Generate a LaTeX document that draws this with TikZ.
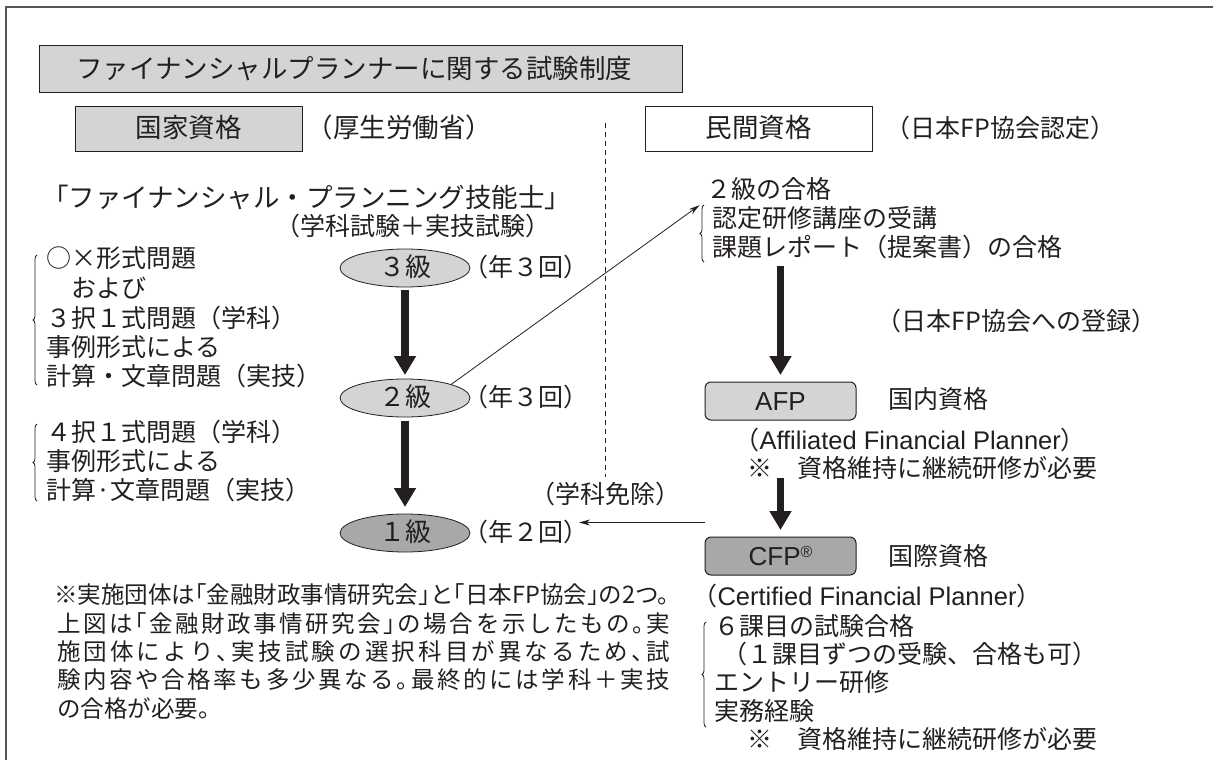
\documentclass[tikz,border=0pt]{standalone}
\usepackage{fontspec}
\setmainfont{Noto Sans CJK JP}
\newfontfamily\jphalf[Script=CJK,RawFeature=+halt]{Noto Sans CJK JP}
\newfontfamily\lat{Liberation Sans}
\usetikzlibrary{arrows.meta,decorations.pathreplacing,shapes.geometric}
\definecolor{ink}{HTML}{231F20}
\definecolor{fillL}{HTML}{D4D4D4}
\definecolor{fillD}{HTML}{A8A8A8}
\definecolor{framec}{HTML}{555555}
\newcommand\hp[1]{{\jphalf #1}}
\newcommand\fs[1]{\fontsize{#1}{#1}\selectfont}
\makeatletter
\def\spr@a#1{#1\futurelet\spr@next\spr@b}
\def\spr@b{\ifx\spr@next\relax\expandafter\@gobble\else\hfil\expandafter\spr@a\fi}
\newcommand\spreadto[2]{\hbox to #1{\spr@a#2\relax}}
\makeatother
\begin{document}
\begin{tikzpicture}[x=1pt,y=-1pt,
  every node/.style={inner sep=0pt,outer sep=0pt,text=ink},
  tx/.style={anchor=west,text height=19pt,text depth=2pt,font=\fs{25}},
  note/.style={tx,font=\jphalf\fs{23.5}},
  graybox/.style={draw=ink,line width=1pt,fill=fillL,minimum height=45pt,text height=20pt,text depth=2pt,font=\fs{26.5}},
  lvl/.style={ellipse,draw=ink,line width=0.8pt,fill=fillL,minimum width=130pt,minimum height=38pt,font=\fs{26},text height=19pt,text depth=2pt},
  rbox/.style={draw=ink,line width=1pt,fill=fillL,rounded corners=6pt,minimum width=151pt,minimum height=38pt,font=\fs{26},text height=19pt,text depth=1pt},
  bigarrow/.style={draw=ink,line width=7.5pt,-{Triangle[length=19pt,width=21pt]}},
  thinarrow/.style={draw=ink,line width=0.8pt,-{Stealth[length=11pt,width=6pt]}},
  curly/.style={draw=ink,line width=0.8pt,decorate,decoration={brace,amplitude=4pt}},
  divider/.style={draw=ink,line width=1pt,dash pattern=on 5pt off 4pt},
  frameline/.style={draw=framec,line width=1.6pt}
]
\useasboundingbox (0,0) rectangle (1213,760);
\draw[frameline] (1213,7) -- (6,7) -- (6,760);

% headers
\node[graybox,minimum width=643pt,minimum height=46pt] (title) at (361,69) {\hspace*{-14pt}ファイナンシャルプランナーに関する試験制度};
\node[graybox,minimum width=227pt] (kokka) at (188.5,128.5) {国家資格};
\node[tx,font=\fs{26.5}] (mhlw) at (320,128.5) {\hp{（}厚生労働省\hp{）}};
\node[graybox,fill=white,minimum width=227pt] (minkan) at (758.5,128.5) {民間資格};
\node[tx] (jafp) at (898,128.5) {\hp{（}日本FP協会認定\hp{）}};

\draw[divider] (605,123) -- (605,477);

% national qualification
\node[tx,font=\fs{26.5}] (skill) at (42,199) {「ファイナンシャル・プランニング技能士」};
\node[tx] (exams) at (288,227) {\hp{（}学科試験＋実技試験\hp{）}};

\node[lvl] (g3) at (405,268) {３級};
\node[lvl] (g2) at (405,398) {２級};
\node[lvl,fill=fillD] (g1) at (405,533) {１級};
\node[tx] (f3) at (476,268) {\hp{（}年３回\hp{）}};
\node[tx] (f2) at (476,398) {\hp{（}年３回\hp{）}};
\node[tx] (f1) at (476,533) {\hp{（}年２回\hp{）}};
\draw[bigarrow,shorten <=3pt,shorten >=4pt] (g3) -- (g2);
\draw[bigarrow,shorten <=4pt,shorten >=7pt] (g2) -- (g1);

\node[tx] (a1) at (46,259) {○×形式問題};
\node[tx] (a2) at (46,289) {　および};
\node[tx] (a3) at (46,319) {３択１式問題（学科）};
\node[tx] (a4) at (46,348) {事例形式による};
\node[tx] (a5) at (46,377) {計算・文章問題（実技）};
\draw[curly] (37,385) -- (37,255);

\node[tx] (b1) at (46,433) {４択１式問題（学科）};
\node[tx] (b2) at (46,462) {事例形式による};
\node[tx] (b3) at (46,491) {計算·文章問題（実技）};
\draw[curly] (37,501) -- (37,424);

% private qualification
\node[tx] (r1) at (706,190) {２級の合格};
\node[tx] (r2) at (712,219) {認定研修講座の受講};
\node[tx] (r3) at (712,248) {課題レポート（提案書）の合格};
\draw[curly] (704,262) -- (704,205);
\draw[thinarrow,shorten >=8pt] (g2.north east) -- (r1.south west);

\node[tx] (reg) at (889,322) {\hp{（}日本FP協会への登録\hp{）}};
\node[rbox] (afp) at (780.5,401) {{\lat AFP}};
\node[tx] (dom) at (888,400) {国内資格};
\node[tx] (afpfull) at (747,441) {\hp{（}{\lat\fs{25.5}Affiliated Financial Planner}\hp{）}};
\node[tx] (afpnote) at (747,469) {※　資格維持に継続研修が必要};
\draw[bigarrow,shorten <=7pt,shorten >=7pt] (r3.south -| afp.north) -- (afp.north);

\node[rbox,fill=fillD] (cfp) at (780.5,556) {{\lat CFP}\raisebox{8pt}{\lat\fs{16}®}};
\node[tx] (intl) at (888,557) {国際資格};
\draw[bigarrow,shorten <=58pt,shorten >=7pt] (afp) -- (cfp);
\node[tx] (exempt) at (543,495) {\hp{（}学科免除\hp{）}};
\draw[thinarrow,shorten >=3pt] (cfp.north west |- f1.north east) -- (f1.north east);

\node[tx] (cfpfull) at (705,597) {\hp{（}{\lat\fs{25.5}Certified Financial Planner}\hp{）}};
\node[tx] (c1) at (714,627) {６課目の試験合格};
\node[tx] (c2) at (722,655) {（１課目ずつの受験、合格も可）};
\node[tx] (c3) at (714,683) {エントリー研修};
\node[tx] (c4) at (714,712) {実務経験};
\node[tx] (c5) at (747,740) {※　資格維持に継続研修が必要};
\draw[curly] (706,727) -- (706,622);

% footnote
\node[note] (n1) at (54,595) {※実施団体は「金融財政事情研究会」と「日本FP協会」の2つ。};
\node[note] (n2) at (57,623.5) {\spreadto{613pt}{上図は「金融財政事情研究会」の場合を示したもの。実}};
\node[note] (n3) at (57,652) {\spreadto{613pt}{施団体により、実技試験の選択科目が異なるため、試}};
\node[note] (n4) at (57,680) {\spreadto{613pt}{験内容や合格率も多少異なる。最終的には学科＋実技}};
\node[note] (n5) at (57,708.5) {の合格が必要。};
\end{tikzpicture}
\end{document}
